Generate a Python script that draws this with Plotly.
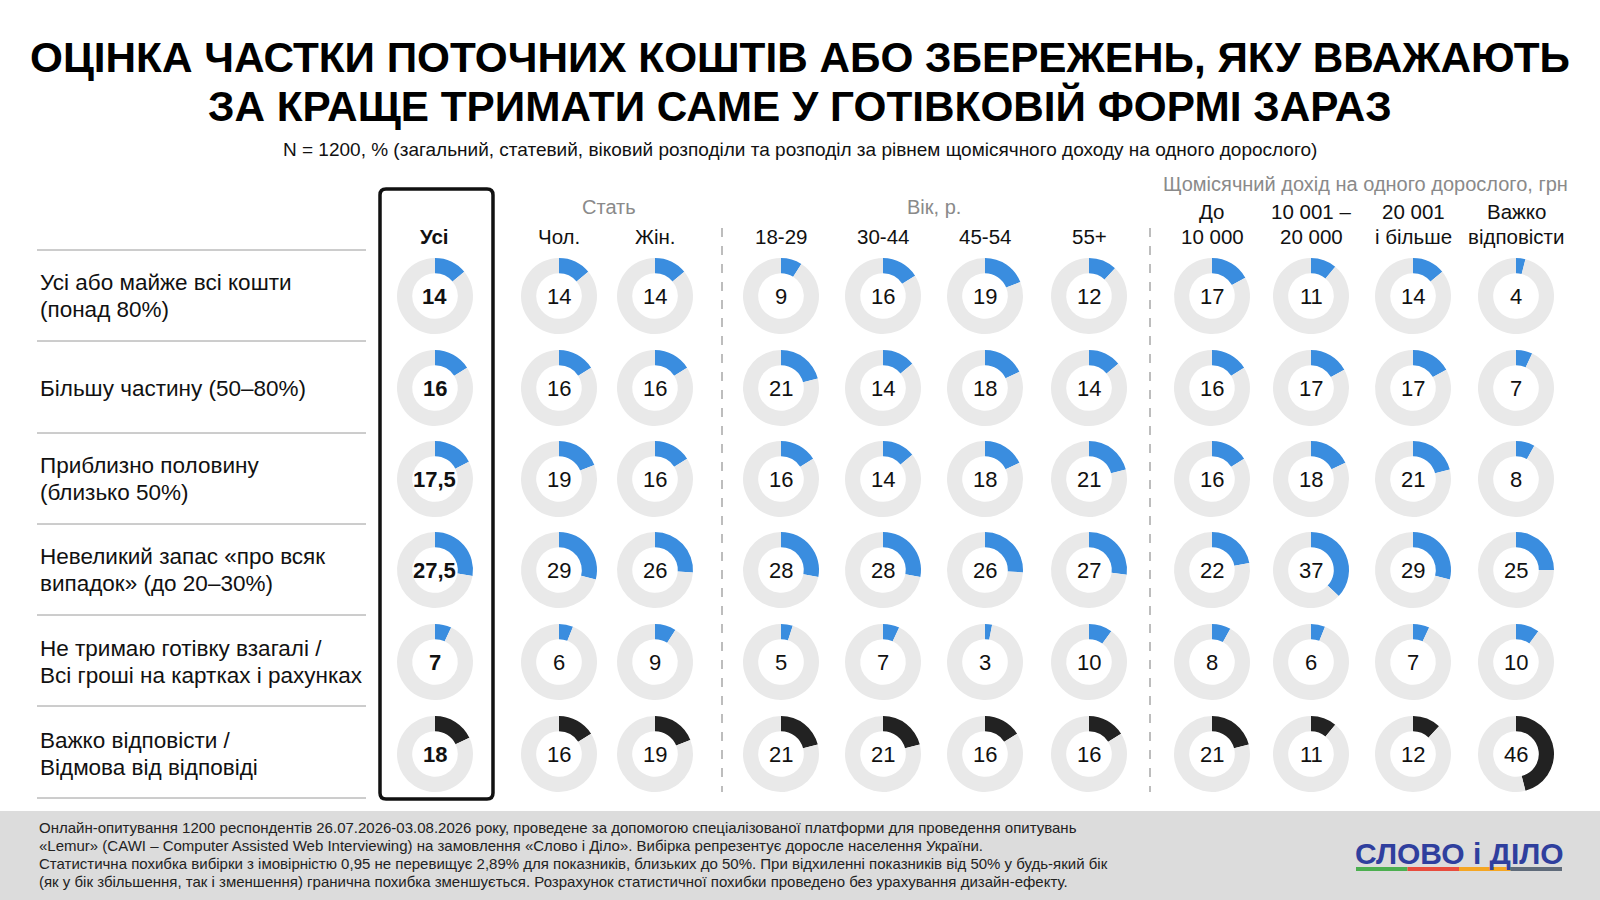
import plotly.graph_objects as go

W, H = 1600, 900

# --- data -----------------------------------------------------------------
columns = ["Усі", "Чол.", "Жін.", "18-29", "30-44", "45-54", "55+",
           "До<br>10 000", "10 001 –<br>20 000", "20 001<br>і більше",
           "Важко<br>відповісти"]
answers = ["Усі або майже всі кошти<br>(понад 80%)",
           "Більшу частину (50–80%)",
           "Приблизно половину<br>(близько 50%)",
           "Невеликий запас «про всяк<br>випадок» (до 20–30%)",
           "Не тримаю готівку взагалі /<br>Всі гроші на картках і рахунках",
           "Важко відповісти /<br>Відмова від відповіді"]
all_or_almost = [14, 14, 14, 9, 16, 19, 12, 17, 11, 14, 4]
most_part = [16, 16, 16, 21, 14, 18, 14, 16, 17, 17, 7]
about_half = [17.5, 19, 16, 16, 14, 18, 21, 16, 18, 21, 8]
small_reserve = [27.5, 29, 26, 28, 28, 26, 27, 22, 37, 29, 25]
no_cash = [7, 6, 9, 5, 7, 3, 10, 8, 6, 7, 10]
hard_to_say = [18, 16, 19, 21, 21, 16, 16, 21, 11, 12, 46]
rows = [all_or_almost, most_part, about_half, small_reserve, no_cash, hard_to_say]

groups = ["Стать", "Вік, р.", "Щомісячний дохід на одного дорослого, грн"]

title_lines = ["ОЦІНКА ЧАСТКИ ПОТОЧНИХ КОШТІВ АБО ЗБЕРЕЖЕНЬ, ЯКУ ВВАЖАЮТЬ",
               "ЗА КРАЩЕ ТРИМАТИ САМЕ У ГОТІВКОВІЙ ФОРМІ ЗАРАЗ"]
subtitle = ("N = 1200, % (загальний, статевий, віковий розподіли та розподіл "
            "за рівнем щомісячного доходу на одного дорослого)")
footer = [
    "Онлайн-опитування 1200 респондентів 26.07.2026-03.08.2026 року, проведене за допомогою "
    "спеціалізованої платформи для проведення опитувань",
    "«Lemur» (CAWI – Computer Assisted Web Interviewing) на замовлення «Слово і Діло». "
    "Вибірка репрезентує доросле населення України.",
    "Статистична похибка вибірки з імовірністю 0,95 не перевищує 2,89% для показників, близьких "
    "до 50%. При відхиленні показників від 50% у будь-який бік",
    "(як у бік збільшення, так і зменшення) гранична похибка зменшується. Розрахунок статистичної "
    "похибки проведено без урахування дизайн-ефекту.",
]

# --- layout positions (px from top-left) ----------------------------------
col_x = [435, 559, 655, 781, 883, 985, 1089, 1212, 1311, 1413, 1516]
row_y = [296, 388, 479, 570, 662, 754]
sep_y = [250, 341, 433, 524, 615, 706, 798]
R = 38

BLUE = "#3a8ddf"
DARK = "#222222"
RING = "#e9e9e9"
FONT = "Liberation Sans, Arial, sans-serif"


def px(x):
    return x / W


def py(y):
    return 1 - y / H


def text(x, y, s, size, color="#111", family=FONT, xanchor="center", **kw):
    return dict(x=px(x), y=py(y), xref="paper", yref="paper", text=s,
                xanchor=xanchor, yanchor="middle", showarrow=False,
                font=dict(size=size, color=color, family=family), **kw)


def line(x0, y0, x1, y1, **kw):
    return dict(type="line", xref="paper", yref="paper",
                x0=px(x0), y0=py(y0), x1=px(x1), y1=py(y1), **kw)


fig = go.Figure()
ann = []
shapes = []

for ri, vals in enumerate(rows):
    cy = row_y[ri]
    color = DARK if ri == len(rows) - 1 else BLUE
    for ci, v in enumerate(vals):
        cx = col_x[ci]
        fig.add_trace(go.Pie(
            values=[v, 100 - v],
            sort=False, direction="clockwise", rotation=0,
            hole=0.6, textinfo="none", hoverinfo="skip",
            marker=dict(colors=[color, RING], line=dict(width=0)),
            domain=dict(x=[px(cx - R), px(cx + R)],
                        y=[py(cy + R), py(cy - R)]),
            showlegend=False,
        ))
        label = f"{v:g}".replace(".", ",")
        if ci == 0:
            label = f"<b>{label}</b>"
        ann.append(text(cx, cy, label, 22))
    parts = answers[ri].split("<br>")
    offs = [0] if len(parts) == 1 else [-13.5, 13.5]
    for part, o in zip(parts, offs):
        ann.append(text(38, cy + o, part, 22.5, xanchor="left"))

for y in sep_y:
    shapes.append(line(37, y, 366, y, line=dict(color="#9a9a9a", width=1)))

# column headers
for ci, name in enumerate(columns):
    parts = name.split("<br>")
    ys = [236] if len(parts) == 1 else [212, 236]
    for part, y in zip(parts, ys):
        txt = f"<b>{part}</b>" if ci == 0 else part
        ann.append(text(col_x[ci], y, txt, 20.5))

# group labels
for gx, gy, g in [(609, 207, groups[0]), (934, 207, groups[1]),
                  (1365, 184, groups[2])]:
    ann.append(text(gx, gy, g, 20, color="#8a8a8a"))

# dashed separators
for x in [722, 1150]:
    shapes.append(line(x, 228, x, 792,
                       line=dict(color="#a8a8a8", width=1.5, dash="dash")))

# highlight box around "Усі"
x0, x1, y0, y1, r = 380, 493, 189, 799, 6
pts = lambda x, y: f"{px(x):.5f},{py(y):.5f}"
path = (f"M{pts(x0+r, y0)} L{pts(x1-r, y0)} Q{pts(x1, y0)} {pts(x1, y0+r)} "
        f"L{pts(x1, y1-r)} Q{pts(x1, y1)} {pts(x1-r, y1)} L{pts(x0+r, y1)} "
        f"Q{pts(x0, y1)} {pts(x0, y1-r)} L{pts(x0, y0+r)} Q{pts(x0, y0)} {pts(x0+r, y0)} Z")
shapes.append(dict(type="path", xref="paper", yref="paper", path=path,
                   line=dict(color="#111", width=3.5)))

# title & subtitle
for s, y in zip(title_lines, [57, 106]):
    ann.append(text(W / 2, y, f"<b>{s}</b>", 42.3, color="#000"))
ann.append(text(800, 149, subtitle, 19, color="#111"))

# footer
shapes.append(dict(type="rect", xref="paper", yref="paper",
                   x0=0, x1=1, y0=0, y1=py(811), line=dict(width=0),
                   fillcolor="#dcdcdc", layer="below"))
for i, s in enumerate(footer):
    ann.append(text(37, 827 + i * 18.3, s, 15, color="#222",
                    family="Liberation Sans Narrow, Arial Narrow, Liberation Sans",
                    xanchor="left"))

# logo
ann.append(text(1459, 853, "<b>СЛОВО і ДІЛО</b>", 30, color="#2f3f9e"))
bar_colors = ["#4caf50", "#e84c3d", "#f5a623", "#5f6b7a"]
for i, c in enumerate(bar_colors):
    bx = 1356 + i * 51.5
    shapes.append(dict(type="rect", xref="paper", yref="paper",
                       x0=px(bx), x1=px(bx + 51.5), y0=py(871), y1=py(867),
                       fillcolor=c, line=dict(width=0)))

fig.update_layout(
    width=W, height=H, margin=dict(l=0, r=0, t=0, b=0),
    paper_bgcolor="white",
    annotations=ann, shapes=shapes, showlegend=False,
)

fig.write_html("out.html", config={"displayModeBar": False},
               post_script="document.body.style.margin='0px';")
